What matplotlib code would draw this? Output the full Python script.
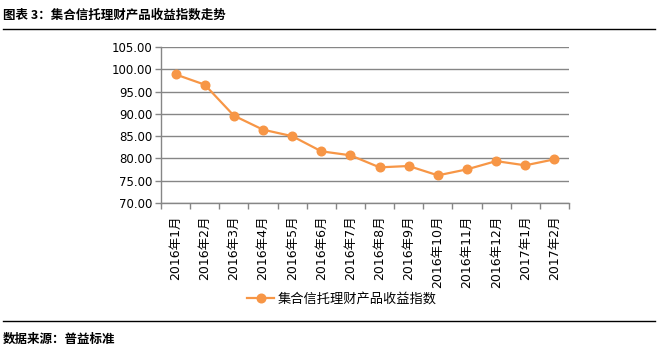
import matplotlib
matplotlib.use("Agg")
import matplotlib.pyplot as plt
from matplotlib.lines import Line2D

plt.rcParams['font.family'] = ['DejaVu Sans', 'Noto Sans CJK SC']

categories = ["2016年1月", "2016年2月", "2016年3月", "2016年4月", "2016年5月", "2016年6月",
              "2016年7月", "2016年8月", "2016年9月", "2016年10月", "2016年11月", "2016年12月",
              "2017年1月", "2017年2月"]
values = [98.85, 96.55, 89.60, 86.45, 85.00, 81.60, 80.70, 78.00, 78.30, 76.20, 77.55, 79.40, 78.45, 79.80]
yticks = [70, 75, 80, 85, 90, 95, 100, 105]
series_name = "集合信托理财产品收益指数"
title = "图表 3：集合信托理财产品收益指数走势"
source = "数据来源：普益标准"

color = "#F79646"
grid_c = "#868686"

fig = plt.figure(figsize=(6.6, 3.56), dpi=100)
ax = fig.add_axes([161/660, 1-203/356, 408/660, 156/356])

x = list(range(len(categories)))
ax.plot(x, values, color=color, lw=1.6, marker='o', ms=6.2, mfc=color, mec=color, zorder=3)

ax.set_xlim(-0.5, len(categories)-0.5)
ax.set_ylim(70, 105)
ax.set_yticks(yticks)
ax.set_yticklabels([f"{v:.2f}" for v in yticks], fontsize=8.5)
ax.yaxis.grid(True, color=grid_c, lw=1)
ax.set_axisbelow(True)
for s in ['top', 'right']:
    ax.spines[s].set_visible(False)
for s in ['left', 'bottom']:
    ax.spines[s].set_color(grid_c)
    ax.spines[s].set_linewidth(1)
ax.tick_params(axis='y', length=4, color=grid_c, width=1, pad=2)

ax.set_xticks(x)
ax.set_xticklabels(categories, rotation=90, fontsize=9, va='top')
ax.set_xticks([i-0.5 for i in range(len(categories)+1)], minor=True)
ax.tick_params(axis='x', which='major', length=0, pad=9)
ax.tick_params(axis='x', which='minor', length=4, color=grid_c, width=1)

# legend
handle = Line2D([], [], color=color, lw=1.6, marker='o', ms=6.2, mfc=color, mec=color)
fig.legend([handle], [series_name], loc='center', bbox_to_anchor=(342/660, 1-299/356),
           frameon=False, fontsize=9.5, handlelength=2.0, handletextpad=0.3)

# title and footer
fig.text(3/660, 1-15/356, title, fontsize=9, fontweight='bold', va='center', ha='left',
         family=['Noto Sans CJK SC', 'DejaVu Sans'])
fig.add_artist(Line2D([3/660, 655/660], [1-29/356, 1-29/356], color='black', lw=1))
fig.add_artist(Line2D([3/660, 655/660], [1-321/356, 1-321/356], color='black', lw=1))
fig.text(3/660, 1-339/356, source, fontsize=9, fontweight='bold', va='center', ha='left',
         family=['Noto Sans CJK SC', 'DejaVu Sans'])

fig.savefig("out.png", dpi=100)
